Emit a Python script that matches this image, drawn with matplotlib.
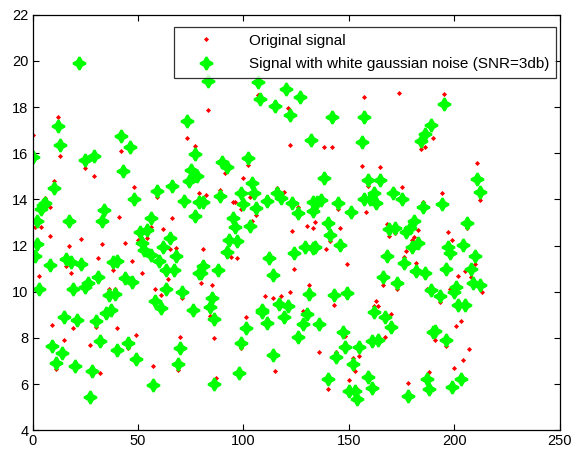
import matplotlib
matplotlib.use("Agg")
import matplotlib.pyplot as plt

# original samples (index, value)
orig_x = [0, 1, 4, 3, 6, 8, 8, 10, 9, 12, 13, 11, 15, 17, 16, 18, 19, 23, 25, 25,
          42, 46, 29, 48, 41, 33, 44, 50, 31, 38, 47, 52, 36, 39, 30, 40, 49, 27, 45, 28, 32,
          73, 77, 75, 59, 79, 72, 66, 56, 62, 54, 65, 68, 64, 58, 61, 71, 70, 57, 69,
          83, 107, 91, 102, 100, 89, 82, 95, 96, 103, 99, 106, 104, 81, 94, 97, 80, 85, 84, 86, 101, 98, 87, 99,
          121, 122, 116, 119, 111, 126, 134, 133, 130, 123, 124, 131, 110, 114, 118, 122, 109, 128, 129, 115,
          157, 138, 142, 156, 159, 158, 135, 145, 141, 146, 139, 149, 143, 164, 148, 136, 144, 155, 152, 153, 150, 140, 154,
          174, 184, 186, 165, 175, 171, 185, 168, 169, 172, 183, 181, 180, 177, 176, 182, 166, 173, 187, 163, 162, 170, 167, 188, 178,
          195, 190, 211, 212, 194, 206, 197, 199, 210, 205, 208, 213, 202, 198, 193, 203, 201, 191, 196, 207, 204, 200]
orig_y = [16.8, 12.8, 12.8, 10.7, 14.07, 13.68, 12.4, 14.8, 8.58, 17.56, 15.9, 6.67, 7.93, 11.99, 11.1, 10.8, 8.45, 12.3, 15.35, 10.1,
          16.09, 16.4, 15.0, 14.52, 13.22, 12.05, 12.12, 12.24, 11.45, 10.94, 11.34, 10.82, 10.14, 10.14, 8.46, 8.45, 8.12, 7.69, 7.56, 6.39, 6.46,
          16.68, 16.32, 14.88, 14.1, 14.3, 14.0, 13.18, 12.82, 12.7, 12.34, 11.85, 11.88, 10.54, 10.14, 9.85, 9.73, 8.05, 6.78, 6.6,
          17.88, 18.53, 15.16, 15.5, 14.94, 14.4, 14.2, 13.87, 13.9, 14.1, 13.57, 13.32, 13.07, 11.85, 11.52, 11.45, 10.4, 10.29, 8.95, 7.98, 8.89, 6.55, 6.27, 7.56,
          17.98, 16.36, 14.48, 14.33, 14.12, 13.67, 13.03, 12.75, 12.85, 12.64, 10.97, 10.29, 9.82, 9.75, 9.82, 9.97, 9.38, 9.16, 8.66, 6.57,
          18.42, 16.29, 16.26, 15.45, 14.6, 13.47, 13.5, 13.57, 12.2, 12.75, 11.84, 11.2, 9.42, 9.4, 8.1, 7.37, 7.4, 7.2, 7.11, 6.56, 6.17, 5.78, 5.8,
          18.6, 16.2, 16.26, 15.42, 14.52, 14.45, 13.9, 12.92, 12.4, 12.55, 12.66, 12.39, 12.24, 11.78, 11.52, 11.24, 10.29, 10.14, 10.1, 9.61, 9.38, 9.03, 8.05, 6.53, 6.05,
          18.57, 16.68, 15.57, 13.97, 14.29, 12.75, 12.6, 12.24, 11.2, 10.9, 10.65, 10.0, 10.7, 10.14, 9.56, 8.74, 8.51, 7.9, 7.64, 7.54, 7.04, 6.68]

# same samples after adding white gaussian noise
noisy_x = [22, 12, 0, 13, 25, 10, 5, 6, 4, 2, 17, 2, 1, 8, 16, 18, 23, 3, 19, 25, 15, 21, 9, 14, 11, 20, 27,
           42, 46, 29, 43, 48, 34, 33, 51, 38, 40, 31, 44, 47, 26, 36, 39, 37, 35, 30, 32, 45, 40, 49, 28,
           73, 77, 75, 78, 74, 66, 59, 72, 79, 77, 56, 54, 65, 53, 56, 62, 68, 60, 63, 67, 79, 63, 71, 58, 61, 76, 70, 69, 57, 52,
           83, 107, 90, 92, 102, 104, 99, 89, 81, 100, 105, 106, 95, 103, 96, 93, 97, 92, 81, 80, 88, 85, 84, 86, 101, 99, 86, 98, 109,
           108, 120, 127, 115, 122, 132, 116, 118, 111, 123, 126, 133, 133, 129, 133, 124, 112, 114, 131, 117, 121, 109, 130, 119, 111, 128, 126, 114,
           142, 157, 156, 159, 138, 157, 160, 135, 137, 145, 151, 140, 141, 146, 134, 143, 149, 136, 147, 164, 148, 155, 144, 152, 140, 150, 153, 154, 159,
           189, 186, 184, 165, 171, 175, 162, 163, 185, 181, 169, 172, 177, 179, 183, 180, 168, 176, 182, 186, 166, 173, 162, 167, 170, 161, 178, 187, 161,
           195, 211, 212, 194, 206, 197, 198, 204, 210, 196, 208, 209, 212, 201, 200, 189, 193, 202, 205, 191, 190, 196, 203, 199, 188]
noisy_y = [19.9, 17.2, 15.85, 16.36, 15.7, 14.5, 13.76, 13.85, 13.6, 13.07, 13.07, 12.05, 11.55, 11.15, 11.4, 11.3, 11.2, 10.14, 10.14, 10.2, 8.89, 8.77, 7.64, 7.33, 6.92, 6.77, 5.45,
           16.75, 16.29, 15.9, 15.23, 14.0, 13.54, 13.07, 12.6, 11.27, 11.34, 10.65, 10.58, 10.43, 10.36, 9.85, 9.9, 9.23, 9.06, 8.74, 7.87, 7.76, 7.47, 7.07, 6.57,
           17.4, 15.97, 15.27, 15.03, 14.8, 14.58, 14.36, 13.95, 13.9, 13.28, 13.18, 12.67, 12.31, 11.8, 11.6, 11.95, 11.57, 11.34, 10.94, 10.94, 10.8, 10.1, 10.0, 9.61, 9.3, 9.2, 7.55, 6.85, 5.95, 12.1,
           19.15, 19.1, 15.64, 15.42, 15.78, 14.7, 14.3, 14.15, 13.9, 13.8, 14.3, 13.64, 13.18, 12.85, 12.79, 12.24, 12.2, 11.73, 11.12, 10.8, 10.94, 9.75, 9.35, 8.84, 8.41, 7.76, 6.0, 6.48, 9.2,
           18.34, 18.77, 18.42, 18.05, 17.66, 16.58, 14.29, 14.05, 13.94, 13.83, 13.4, 13.9, 13.5, 11.95, 11.9, 11.7, 11.45, 10.72, 9.9, 9.46, 9.38, 9.13, 9.03, 8.89, 8.66, 8.6, 8.05, 7.25,
           17.59, 17.56, 16.47, 14.84, 14.91, 14.0, 14.04, 13.9, 13.97, 13.83, 13.47, 12.96, 12.46, 12.02, 11.92, 9.85, 9.95, 8.6, 8.26, 7.9, 7.59, 7.61, 7.18, 6.85, 6.24, 5.69, 5.69, 5.37, 6.31,
           17.23, 16.84, 16.55, 14.84, 14.29, 14.0, 14.29, 13.83, 13.69, 13.07, 12.72, 12.75, 12.6, 12.75, 12.13, 11.92, 11.55, 11.26, 10.9, 10.8, 10.62, 10.36, 9.13, 8.91, 8.48, 7.87, 5.47, 6.2, 5.83,
           18.14, 14.88, 14.33, 13.8, 12.96, 11.95, 11.66, 12.02, 11.55, 11.0, 11.0, 10.39, 10.29, 10.2, 10.0, 10.07, 9.81, 9.42, 9.42, 8.29, 8.26, 7.9, 6.24, 5.88, 5.8]

x_ticks = [0, 50, 100, 150, 200, 250]
y_ticks = [4, 6, 8, 10, 12, 14, 16, 18, 20, 22]

plt.rcParams["font.family"] = ["Liberation Sans", "DejaVu Sans"]

fig = plt.figure(figsize=(5.74, 4.5), dpi=100)
ax = fig.add_axes([0.057, 0.044, 0.918, 0.923])

ax.plot(orig_x, orig_y, linestyle="none", marker="D", markersize=2.6,
        color="#ff0000", markeredgewidth=0, label="Original signal")
ax.plot(noisy_x, noisy_y, linestyle="none", marker=(4, 1, 0), markersize=9,
        color="#00ff00", markeredgewidth=1.7,
        label="Signal with white gaussian noise (SNR=3db)")

ax.set_xlim(0, 250)
ax.set_ylim(4, 22)
ax.set_xticks(x_ticks)
ax.set_yticks(y_ticks)
ax.tick_params(direction="in", top=True, right=True, labelsize=10.5, length=4, pad=3)
for s in ax.spines.values():
    s.set_linewidth(0.9)

leg = ax.legend(loc="upper right", bbox_to_anchor=(0.994, 0.971), fontsize=11,
                frameon=True, fancybox=False, borderaxespad=0,
                handlelength=3.3, handletextpad=1.2,
                borderpad=0.45, labelspacing=0.6)
leg.get_frame().set_edgecolor("black")
leg.get_frame().set_linewidth(0.9)

fig.savefig("out.png", dpi=100)
